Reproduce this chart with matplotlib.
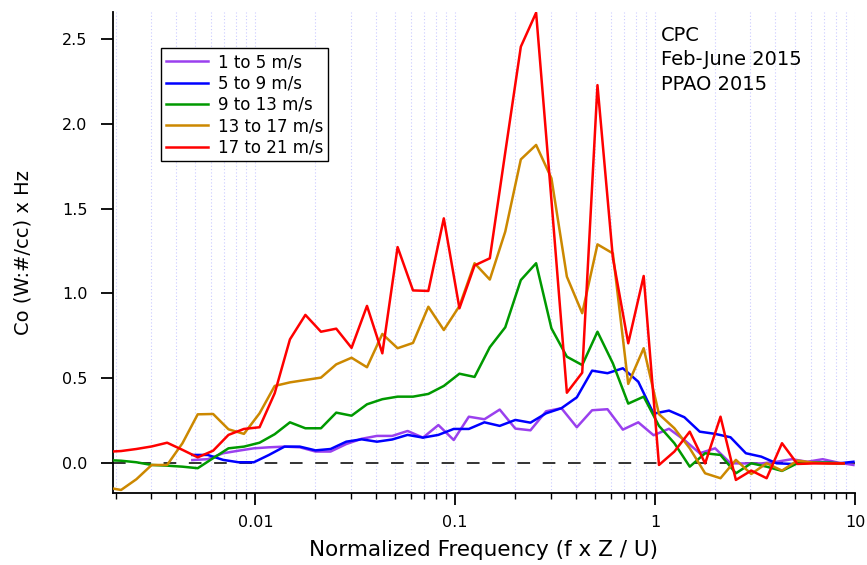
import matplotlib
matplotlib.use("Agg")
import matplotlib.pyplot as plt
from matplotlib.ticker import LogLocator, FuncFormatter, NullFormatter

# normalized frequency bins (f x Z / U)
freq_hi = [0.00178, 0.00213, 0.00254, 0.00303, 0.00362, 0.00432, 0.00515, 0.00615,
           0.00734, 0.00877, 0.0105, 0.0125, 0.0149, 0.0178, 0.0213, 0.0254,
           0.0303, 0.0362, 0.0432, 0.0515, 0.0615, 0.0734, 0.0877, 0.105,
           0.125, 0.149, 0.178, 0.213, 0.254, 0.303, 0.362, 0.432,
           0.515, 0.615, 0.734, 0.877, 1.046, 1.249, 1.491, 1.780,
           2.125, 2.537, 3.029, 3.616, 4.315, 5.152, 6.150, 7.342, 8.766]
freq_lo = [0.00484, 0.00578, 0.00690, 0.00824, 0.00983, 0.0117, 0.0140, 0.0167,
           0.0200, 0.0238, 0.0285, 0.0340, 0.0406, 0.0484, 0.0578, 0.0690,
           0.0824, 0.0983, 0.117, 0.140, 0.167, 0.200, 0.238, 0.285,
           0.340, 0.406, 0.484, 0.578, 0.690, 0.824, 0.983, 1.174,
           1.401, 1.673, 1.997, 2.384, 2.846, 3.398, 4.055, 4.841,
           5.779, 6.899, 8.237, 9.829]

co_1_5 = [0.02, 0.025, 0.06, 0.075, 0.089, 0.095, 0.099, 0.095, 0.07, 0.07, 0.114,
          0.145, 0.162, 0.162, 0.191, 0.152, 0.226, 0.138, 0.275, 0.26, 0.317,
          0.205, 0.195, 0.307, 0.325, 0.213, 0.313, 0.319, 0.199, 0.242, 0.166,
          0.204, 0.138, 0.06, 0.089, 0.001, 0.0, 0.0, 0.01, 0.025, 0.01, 0.025,
          0.005, -0.009]
co_5_9 = [0.05, 0.05, 0.021, 0.007, 0.007, 0.05, 0.099, 0.099, 0.077, 0.085, 0.128,
          0.142, 0.128, 0.141, 0.168, 0.152, 0.168, 0.203, 0.203, 0.242, 0.221,
          0.256, 0.24, 0.295, 0.325, 0.389, 0.546, 0.531, 0.56, 0.481, 0.293,
          0.311, 0.272, 0.187, 0.174, 0.154, 0.06, 0.04, 0.001, -0.003, 0.005,
          0.005, 0.0, 0.01]
co_9_13 = [0.02, 0.016, 0.007, -0.009, -0.013, -0.019, -0.028, 0.031, 0.089, 0.099,
           0.122, 0.172, 0.242, 0.207, 0.207, 0.299, 0.281, 0.348, 0.378, 0.393,
           0.393, 0.409, 0.456, 0.528, 0.509, 0.684, 0.801, 1.079, 1.178, 0.795,
           0.628, 0.579, 0.775, 0.589, 0.352, 0.393, 0.221, 0.119, -0.019, 0.06,
           0.05, -0.058, 0.001, -0.019, -0.044, 0.001, 0.005, 0.005, 0.0]
co_13_17 = [-0.14, -0.156, -0.093, -0.009, -0.009, 0.119, 0.289, 0.291, 0.201, 0.174,
            0.295, 0.456, 0.477, 0.491, 0.505, 0.583, 0.622, 0.566, 0.762, 0.678,
            0.709, 0.922, 0.785, 0.926, 1.178, 1.082, 1.364, 1.789, 1.874, 1.678,
            1.099, 0.884, 1.289, 1.236, 0.468, 0.678, 0.29, 0.207, 0.089, -0.058,
            -0.087, 0.021, -0.062, 0.001, -0.042, 0.017, 0.005, 0.0, 0.0]
co_17_21 = [0.068, 0.073, 0.085, 0.100, 0.122, 0.08, 0.036, 0.075, 0.168, 0.203,
            0.213, 0.413, 0.73, 0.874, 0.775, 0.793, 0.68, 0.927, 0.648, 1.273,
            1.018, 1.015, 1.442, 0.913, 1.165, 1.207, 1.83, 2.452, 2.652, 1.55,
            0.416, 0.534, 2.226, 1.21, 0.707, 1.103, -0.009, 0.07, 0.187, 0.0,
            0.275, -0.097, -0.042, -0.087, 0.119, -0.003, 0.0, 0.0, 0.0]

series = [
    (freq_lo, co_1_5, "1 to 5 m/s", "#9a40ee"),
    (freq_lo, co_5_9, "5 to 9 m/s", "#0000ff"),
    (freq_hi, co_9_13, "9 to 13 m/s", "#009900"),
    (freq_hi, co_13_17, "13 to 17 m/s", "#cc8800"),
    (freq_hi, co_17_21, "17 to 21 m/s", "#ff0000"),
]

plt.rcParams['font.family'] = ['DejaVu Sans']

fig = plt.figure(figsize=(8.67, 5.65), dpi=100)
ax = fig.add_axes([0.1303, 0.1274, 0.8558, 0.8513])

for x, y, label, color in series:
    ax.plot(x, y, color=color, lw=1.8, label=label, zorder=3)

ax.axhline(0, color='#333333', lw=1.4, dashes=(6.5, 6.5), zorder=2)

ax.set_xscale('log')
ax.set_xlim(0.00194, 10)
ax.set_ylim(-0.174, 2.656)

ax.xaxis.set_major_locator(LogLocator(base=10))
ax.xaxis.set_minor_locator(LogLocator(base=10, subs=range(2, 10)))
ax.xaxis.set_major_formatter(FuncFormatter(lambda v, p: '%g' % v))
ax.xaxis.set_minor_formatter(NullFormatter())
ax.set_yticks([0.0, 0.5, 1.0, 1.5, 2.0, 2.5])
ax.set_yticklabels(['0.0', '0.5', '1.0', '1.5', '2.0', '2.5'])

ax.grid(True, which='both', axis='x', color='#cacaff', linestyle=(0, (1, 2)), lw=0.8, zorder=0)

for s in ['top', 'right']:
    ax.spines[s].set_visible(False)
for s in ['left', 'bottom']:
    ax.spines[s].set_linewidth(1.3)

ax.tick_params(axis='y', which='major', direction='out', length=8.5, width=1.3,
               labelsize=11.5, pad=10)
ax.tick_params(axis='x', which='major', direction='out', length=8.5, width=1.3,
               labelsize=11.5, pad=7)
ax.tick_params(axis='x', which='minor', direction='out', length=4.5, width=1.0)

ax.set_xlabel('Normalized Frequency (f x Z / U)', fontsize=15.5)
ax.set_ylabel('Co (W:#/cc) x Hz', fontsize=14)
ax.xaxis.set_label_coords(0.5, -0.098)
ax.yaxis.set_label_coords(-0.109, 0.5)

leg = ax.legend(loc='upper left', bbox_to_anchor=(0.0647, 0.925), borderaxespad=0,
                fontsize=12, frameon=True, fancybox=False, framealpha=1,
                handlelength=2.5, handletextpad=0.6, labelspacing=0.2, borderpad=0.3)
leg.get_frame().set_edgecolor('black')
leg.get_frame().set_linewidth(1.0)

ax.text(0.7385, 0.972, 'CPC\nFeb-June 2015\nPPAO 2015', transform=ax.transAxes,
        ha='left', va='top', fontsize=14, linespacing=1.38)

fig.savefig('out.png', dpi=100)
